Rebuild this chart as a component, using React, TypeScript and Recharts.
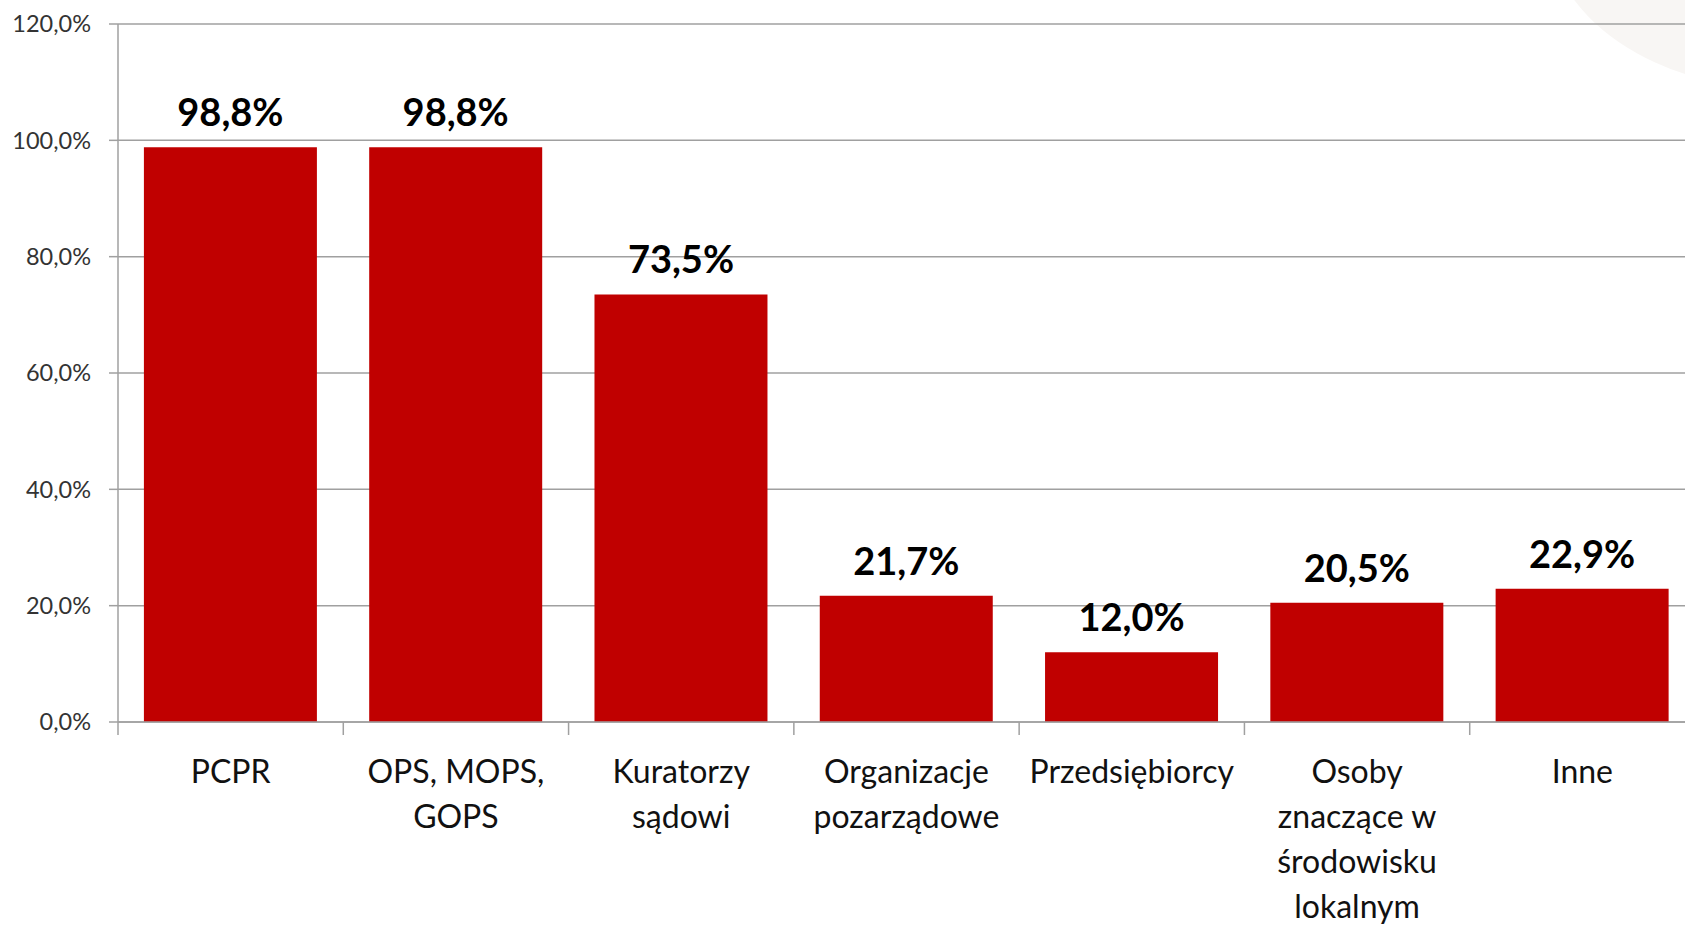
import React from 'react';
import {
  BarChart,
  Bar,
  XAxis,
  YAxis,
  CartesianGrid,
  LabelList,
} from 'recharts';

const categories = [
  'PCPR',
  'OPS, MOPS,\nGOPS',
  'Kuratorzy\nsądowi',
  'Organizacje\npozarządowe',
  'Przedsiębiorcy',
  'Osoby\nznaczące w\nśrodowisku\nlokalnym',
  'Inne',
];
const shares = [98.8, 98.8, 73.5, 21.7, 12.0, 20.5, 22.9];
const yTicks = [0, 20, 40, 60, 80, 100, 120];

const data = categories.map((name, i) => ({ name, value: shares[i] }));

const CHART_WIDTH = 1710;
const CHART_HEIGHT = 926;
const MARGIN = { top: 24, right: 15, left: 0, bottom: 16 };
const Y_AXIS_WIDTH = 118;
const PLOT_WIDTH = CHART_WIDTH - MARGIN.left - MARGIN.right - Y_AXIS_WIDTH;
const STEP = PLOT_WIDTH / categories.length;

const FONT = 'Lato, "Open Sans", sans-serif';
const GRID = '#a0a0a0';

const pct = (v: number) => v.toFixed(1).replace('.', ',') + '%';

function CategoryTick(props: any) {
  const { x, y, payload } = props;
  const lines = String(payload.value).split('\n');
  const left = x - STEP / 2;
  return (
    <g>
      <line x1={left} y1={y} x2={left} y2={y + 13} stroke={GRID} strokeWidth={1.5} />
      <text
        x={x}
        y={y + 61}
        textAnchor="middle"
        fill="#111"
        style={{ fontFamily: FONT, fontSize: 32 }}
      >
        {lines.map((line, i) => (
          <tspan key={i} x={x} dy={i === 0 ? 0 : 45}>
            {line}
          </tspan>
        ))}
      </text>
    </g>
  );
}

export default function App() {
  return (
    <div
      style={{
        position: 'absolute',
        left: 0,
        top: 0,
        width: 1685,
        height: 926,
        overflow: 'hidden',
        background: '#fff',
      }}
    >
      {/* faint watermark shape in the top right corner */}
      <div
        style={{
          position: 'absolute',
          left: 1548,
          top: -240,
          width: 480,
          height: 330,
          borderRadius: '50%',
          background: '#f8f6f4',
        }}
      />
      <div style={{ position: 'absolute', left: 0, top: 0 }}>
        <BarChart
          width={CHART_WIDTH}
          height={CHART_HEIGHT}
          data={data}
          margin={MARGIN}
          barCategoryGap="11.5%"
        >
          <CartesianGrid vertical={false} stroke={GRID} strokeWidth={1.5} />
          <XAxis
            dataKey="name"
            interval={0}
            height={188}
            tickSize={0}
            tickMargin={0}
            tickLine={false}
            axisLine={{ stroke: GRID, strokeWidth: 1.5 }}
            tick={<CategoryTick />}
          />
          <YAxis
            width={Y_AXIS_WIDTH}
            domain={[0, 120]}
            ticks={yTicks}
            interval={0}
            tickSize={9}
            tickMargin={18}
            tickFormatter={pct}
            axisLine={{ stroke: GRID, strokeWidth: 1.5 }}
            tickLine={{ stroke: GRID, strokeWidth: 1.5 }}
            tick={{ fill: '#333', fontSize: 23.5, fontFamily: FONT }}
          />
          <Bar dataKey="value" fill="#c00000" isAnimationActive={false}>
            <LabelList
              dataKey="value"
              position="top"
              offset={21}
              formatter={(v: any) => pct(Number(v))}
              style={{ fontFamily: FONT, fontSize: 38, fontWeight: 700, fill: '#000' }}
            />
          </Bar>
        </BarChart>
      </div>
    </div>
  );
}
